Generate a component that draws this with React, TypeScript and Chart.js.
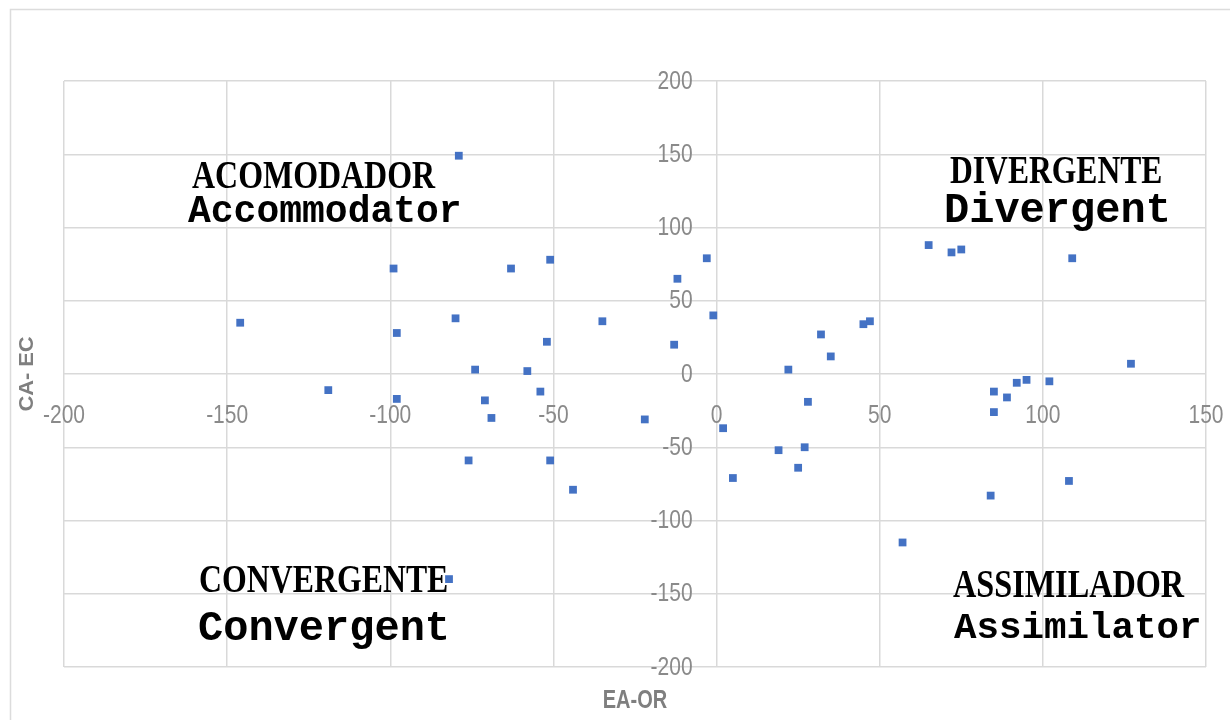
import React, { useEffect, useRef } from "react";
import { Chart, registerables } from "chart.js";

Chart.register(...registerables);

// ---- Data ----
const eaOr = [
  -79, -99, -146, -98, -119, -98, -80, -74, -63, -51,
  -52, -58, -54, -71, -69, -76, -51, -44, -82, -35,
  -22, -12, -3, -13, -1, 2, 5, 19, 27, 25,
  28, 22, 32, 35, 45, 47, 65, 72, 75, 109,
  127, 85, 89, 92, 95, 102, 85, 84, 108, 57,
];
const caEc = [
  149, 72, 35, 28, -11, -17, 38, 3, 72, 78,
  22, 2, -12, -18, -30, -59, -59, -79, -140, 36,
  -31, 65, 79, 20, 40, -37, -71, -52, -50, -64,
  -19, 3, 27, 12, 34, 36, 88, 83, 85, 79,
  7, -12, -16, -6, -4, -5, -26, -83, -73, -115,
];

const xTickValues = [-200, -150, -100, -50, 0, 50, 100, 150];
const xTickLabels = ["-200", "-150", "-100", "-50", "0", "50", "100", "150"];
const yTickValues = [-200, -150, -100, -50, 0, 50, 100, 150, 200];
const yTickLabels = ["-200", "-150", "-100", "-50", "0", "50", "100", "150", "200"];

const xAxisTitle = "EA-OR";
const yAxisTitle = "CA- EC";

const quadrantNamesPt = ["ACOMODADOR", "DIVERGENTE", "CONVERGENTE", "ASSIMILADOR"];
const quadrantNamesEn = ["Accommodator", "Divergent", "Convergent", "Assimilator"];

// ---- Styles / layout ----
const POINT_COLOR = "#4472C4";
const GRID_COLOR = "#d9d9d9";
const TICK_COLOR = "#8a8a8a";
const TITLE_COLOR = "#7f7f7f";

const PT_LAYOUT = [
  { x: 192, y: 188, w: 244 },
  { x: 950, y: 183, w: 211 },
  { x: 200, y: 592, w: 247 },
  { x: 953, y: 597, w: 232 },
];
const EN_LAYOUT = [
  { x: 188, y: 222, size: 38 },
  { x: 944, y: 222, size: 42 },
  { x: 198, y: 640, size: 42 },
  { x: 954, y: 638, size: 37.5 },
];

const overlayPlugin = {
  id: "overlay",
  beforeDraw(chart: any) {
    const ctx = chart.ctx;
    ctx.save();
    ctx.fillStyle = "#ffffff";
    ctx.fillRect(0, 0, chart.width, chart.height);
    ctx.strokeStyle = "#dcdcdc";
    ctx.lineWidth = 1.5;
    ctx.beginPath();
    ctx.moveTo(10.5, chart.height);
    ctx.lineTo(10.5, 9.5);
    ctx.lineTo(chart.width, 9.5);
    ctx.stroke();
    ctx.restore();
  },
  beforeDatasetsDraw(chart: any) {
    const ctx = chart.ctx;
    const xs = chart.scales.x;
    const ys = chart.scales.y;
    const area = chart.chartArea;
    const x0 = xs.getPixelForValue(0);
    const y0 = ys.getPixelForValue(0);

    ctx.save();
    // tick labels
    ctx.fillStyle = TICK_COLOR;
    ctx.font = '21px "Liberation Sans", Arial, sans-serif';
    ctx.textBaseline = "alphabetic";
    ctx.textAlign = "center";
    xTickValues.forEach((v, i) => {
      ctx.save();
      ctx.translate(xs.getPixelForValue(v), y0 + 48.5);
      ctx.scale(1, 1.2);
      ctx.fillText(xTickLabels[i], 0, 0);
      ctx.restore();
    });
    ctx.textAlign = "right";
    yTickValues.forEach((v, i) => {
      ctx.save();
      ctx.translate(x0 - 24, ys.getPixelForValue(v) + 7.5);
      ctx.scale(1, 1.2);
      ctx.fillText(yTickLabels[i], 0, 0);
      ctx.restore();
    });

    // axis titles
    ctx.fillStyle = TITLE_COLOR;
    ctx.font = 'bold 20px "Liberation Sans", Arial, sans-serif';
    ctx.textAlign = "center";
    ctx.save();
    ctx.translate((area.left + area.right) / 2, 708);
    ctx.scale(1, 1.25);
    ctx.fillText(xAxisTitle, 0, 0);
    ctx.restore();

    ctx.font = 'bold 21px "Liberation Sans", Arial, sans-serif';
    ctx.save();
    ctx.translate(33, (area.top + area.bottom) / 2);
    ctx.rotate(-Math.PI / 2);
    ctx.scale(1.04, 1);
    ctx.fillText(yAxisTitle, 0, 0);
    ctx.restore();

    // quadrant labels
    ctx.fillStyle = "#000000";
    ctx.textAlign = "left";
    quadrantNamesPt.forEach((t, i) => {
      const p = PT_LAYOUT[i];
      ctx.font = 'bold 32px "Liberation Serif", "Times New Roman", serif';
      const m = ctx.measureText(t);
      const inkW = m.actualBoundingBoxRight + m.actualBoundingBoxLeft;
      const sx = p.w / inkW;
      ctx.save();
      ctx.translate(p.x, p.y);
      ctx.scale(sx, 1.25);
      ctx.fillText(t, m.actualBoundingBoxLeft, 0);
      ctx.restore();
    });
    quadrantNamesEn.forEach((t, i) => {
      const p = EN_LAYOUT[i];
      ctx.font = `bold ${p.size}px "Liberation Mono", "Courier New", monospace`;
      ctx.fillText(t, p.x, p.y);
    });
    ctx.restore();
  },
};

export default function App() {
  const canvasRef = useRef<HTMLCanvasElement | null>(null);

  useEffect(() => {
    const canvas = canvasRef.current;
    if (!canvas) return;
    const points = eaOr.map((x, i) => ({ x, y: caEc[i] }));
    const chart = new Chart(canvas, {
      type: "scatter",
      data: {
        datasets: [
          {
            label: "CA-EC",
            data: points,
            pointStyle: "rect",
            pointRadius: 5.5,
            pointHoverRadius: 5.5,
            backgroundColor: POINT_COLOR,
            borderColor: POINT_COLOR,
            borderWidth: 0,
          },
        ],
      },
      options: {
        responsive: false,
        animation: false,
        devicePixelRatio: 1,
        layout: { padding: { left: 64, top: 81, right: 24, bottom: 53 } },
        plugins: {
          legend: { display: false },
          tooltip: { enabled: false },
        },
        events: [],
        scales: {
          x: {
            type: "linear",
            min: -200,
            max: 150,
            ticks: { stepSize: 50, display: false },
            grid: { color: GRID_COLOR, lineWidth: 1.5, drawTicks: false },
            border: { display: false },
            afterFit: (s: any) => {
              s.height = 0;
            },
          },
          y: {
            type: "linear",
            min: -200,
            max: 200,
            ticks: { stepSize: 50, display: false },
            grid: { color: GRID_COLOR, lineWidth: 1.5, drawTicks: false },
            border: { display: false },
            afterFit: (s: any) => {
              s.width = 0;
            },
          },
        },
      } as any,
      plugins: [overlayPlugin],
    });
    return () => chart.destroy();
  }, []);

  return (
    <div
      style={{
        position: "fixed",
        left: 0,
        top: 0,
        width: 1230,
        height: 720,
        background: "#ffffff",
      }}
    >
      <canvas
        ref={canvasRef}
        width={1230}
        height={720}
        style={{ width: 1230, height: 720, display: "block" }}
      />
    </div>
  );
}
